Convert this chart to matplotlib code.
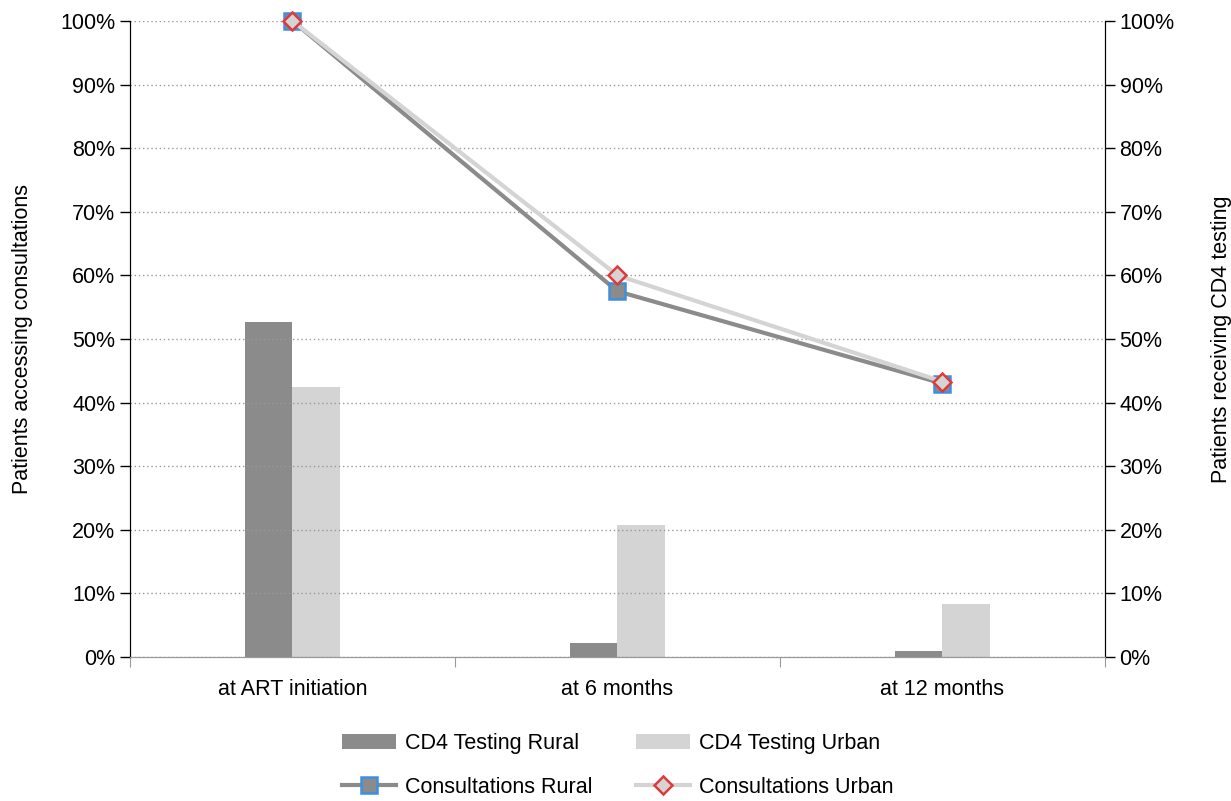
import matplotlib.pyplot as plt
import numpy as np
from matplotlib.ticker import FuncFormatter, FixedLocator

plt.rcParams['font.family'] = ['Liberation Sans', 'DejaVu Sans']

categories = ['at ART initiation', 'at 6 months', 'at 12 months']
cd4_rural = [52.7, 2.2, 0.9]
cd4_urban = [42.5, 20.7, 8.4]
consult_rural = [100.0, 57.5, 43.0]
consult_urban = [100.0, 60.0, 43.3]

dark = '#8a8b8a'
light = '#d3d4d3'
fs = 15.5

fig = plt.figure(figsize=(12.31, 8.01), dpi=100)
ax = fig.add_axes([0.1056, 0.1798, 0.792, 0.794])
ax2 = ax.twinx()

x = np.arange(len(categories))
w = 0.145
b1 = ax2.bar(x - w / 2, cd4_rural, w, color=dark, label='CD4 Testing Rural', zorder=2)
b2 = ax2.bar(x + w / 2, cd4_urban, w, color=light, label='CD4 Testing Urban', zorder=2)

l1, = ax.plot(x, consult_rural, color=dark, lw=3, marker='s', ms=12,
              mfc=dark, mec='#3d8fe0', mew=1.8, label='Consultations Rural',
              zorder=4, clip_on=False)
l2, = ax.plot(x, consult_urban, color=light, lw=3, marker='D', ms=9,
              mfc=light, mec='#e03a3a', mew=1.8, label='Consultations Urban',
              zorder=5, clip_on=False)

pct = FuncFormatter(lambda v, p: f'{v:.0f}%')
for a in (ax, ax2):
    a.set_ylim(0, 100)
    a.set_yticks(np.arange(0, 101, 10))
    a.yaxis.set_major_formatter(pct)
    a.tick_params(axis='y', labelsize=fs, length=7, width=1, direction='out')
    a.spines['top'].set_visible(False)
    a.spines['left'].set_color('black')
    a.spines['right'].set_color('black')
    a.spines['bottom'].set_color('#999999')

ax.set_xlim(-0.5, 2.5)
ax.xaxis.set_major_locator(FixedLocator([-0.5, 0.5, 1.5, 2.5]))
ax.xaxis.set_minor_locator(FixedLocator(x))
ax.set_xticklabels([], minor=False)
ax.set_xticklabels(categories, minor=True)
ax.tick_params(axis='x', which='major', length=7, color='#999999', direction='out')
ax.tick_params(axis='x', which='minor', length=0, labelsize=fs, pad=16)

ax.grid(axis='y', linestyle=(0, (1, 2)), color='#999999', lw=1.0)
ax.set_axisbelow(True)
ax.set_zorder(ax2.get_zorder() + 1)
ax.patch.set_visible(False)

ax.set_ylabel('Patients accessing consultations', fontsize=fs, labelpad=20)
ax2.set_ylabel('Patients receiving CD4 testing', fontsize=fs, labelpad=26)

fig.legend(handles=[b1, l1, b2, l2], loc='lower center', ncol=2,
           bbox_to_anchor=(0.502, -0.02), frameon=False, fontsize=fs,
           handlelength=2.5, columnspacing=2.0, labelspacing=1.05, handletextpad=0.45)

fig.savefig('out.png', dpi=100)
